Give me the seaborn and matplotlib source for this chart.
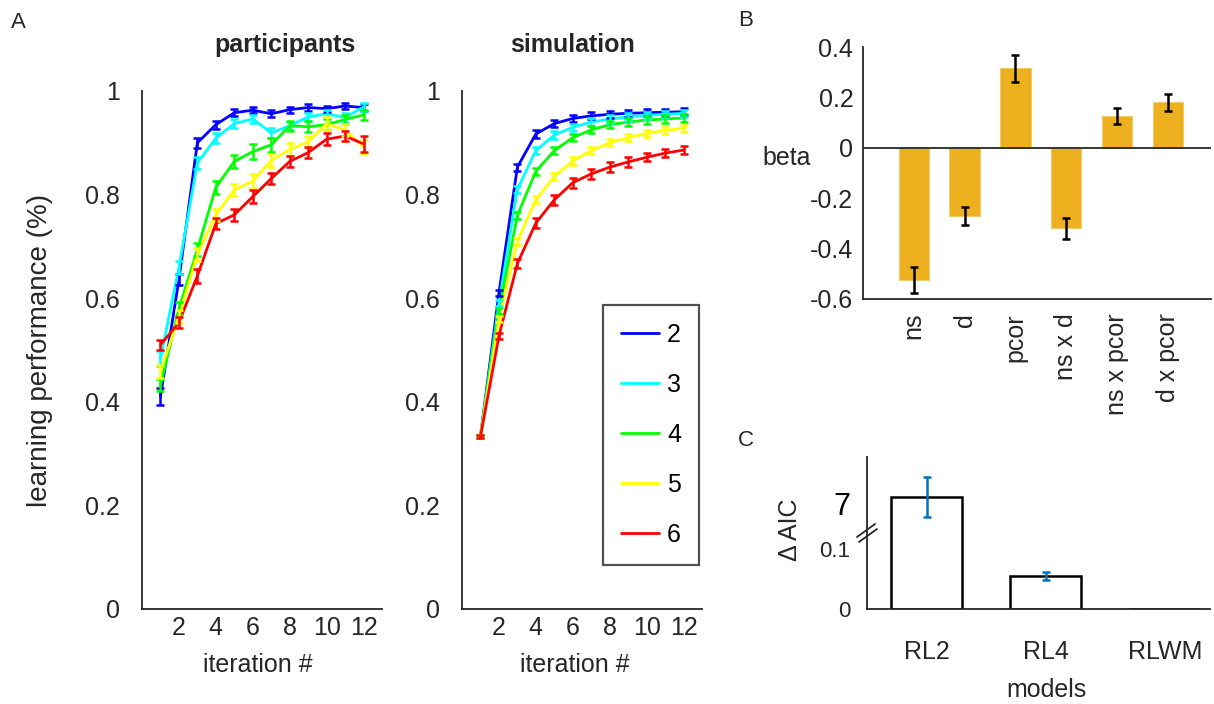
import numpy as np
import pandas as pd
import seaborn as sns
import matplotlib.pyplot as plt
from matplotlib.lines import Line2D

# ---- data ----
iterations = list(range(1, 13))
set_sizes = ['2', '3', '4', '5', '6']
line_colors = ['#0000ff', '#00ffff', '#00ff00', '#ffff00', '#ff0000']

# participants, learning performance per iteration
part_2 = [0.41, 0.636, 0.900, 0.935, 0.958, 0.963, 0.956, 0.964, 0.968, 0.966, 0.971, 0.968]
part_3 = [0.484, 0.659, 0.861, 0.909, 0.937, 0.946, 0.919, 0.933, 0.950, 0.956, 0.949, 0.969]
part_4 = [0.432, 0.580, 0.694, 0.814, 0.864, 0.883, 0.896, 0.933, 0.931, 0.935, 0.945, 0.954]
part_5 = [0.458, 0.565, 0.684, 0.761, 0.809, 0.826, 0.866, 0.887, 0.902, 0.937, 0.925, 0.892]
part_6 = [0.510, 0.553, 0.643, 0.744, 0.761, 0.796, 0.831, 0.864, 0.881, 0.907, 0.913, 0.898]
part_err_2 = [0.016, 0.010, 0.010, 0.008, 0.007, 0.006, 0.007, 0.006, 0.007, 0.006, 0.006, 0.006]
part_err_3 = [0.014, 0.012, 0.011, 0.009, 0.008, 0.008, 0.009, 0.008, 0.008, 0.008, 0.008, 0.008]
part_err_4 = [0.012, 0.012, 0.012, 0.012, 0.012, 0.014, 0.014, 0.010, 0.011, 0.010, 0.009, 0.010]
part_err_5 = [0.013, 0.012, 0.012, 0.012, 0.012, 0.013, 0.012, 0.012, 0.011, 0.012, 0.012, 0.014]
part_err_6 = [0.010, 0.010, 0.013, 0.011, 0.012, 0.013, 0.010, 0.011, 0.010, 0.011, 0.010, 0.015]

# simulation
sim_2 = [0.333, 0.610, 0.853, 0.917, 0.937, 0.947, 0.952, 0.955, 0.957, 0.958, 0.959, 0.960]
sim_3 = [0.333, 0.590, 0.810, 0.885, 0.915, 0.930, 0.940, 0.946, 0.950, 0.953, 0.955, 0.957]
sim_4 = [0.333, 0.575, 0.760, 0.845, 0.885, 0.910, 0.925, 0.935, 0.940, 0.944, 0.946, 0.948]
sim_5 = [0.333, 0.560, 0.710, 0.790, 0.835, 0.865, 0.885, 0.900, 0.910, 0.918, 0.924, 0.928]
sim_6 = [0.333, 0.527, 0.667, 0.745, 0.790, 0.823, 0.840, 0.853, 0.863, 0.872, 0.880, 0.886]
sim_err = [0.002, 0.006, 0.007, 0.007, 0.007, 0.007, 0.007, 0.007, 0.007, 0.007, 0.007, 0.007]
sim_err_6 = [0.002, 0.006, 0.009, 0.010, 0.010, 0.010, 0.009, 0.009, 0.009, 0.008, 0.008, 0.008]

# regression betas
beta_names = ['ns', 'd', 'pcor', 'ns x d', 'ns x pcor', 'd x pcor']
beta_vals = [-0.525, -0.270, 0.315, -0.320, 0.125, 0.180]
beta_err = [0.052, 0.035, 0.053, 0.043, 0.031, 0.035]

# model comparison
models = ['RL2', 'RL4', 'RLWM']
aic_vals = [7.48, 0.055, 0.0]
aic_err = [1.35, 0.006, 0.0]

part = [part_2, part_3, part_4, part_5, part_6]
part_err = [part_err_2, part_err_3, part_err_4, part_err_5, part_err_6]
sim = [sim_2, sim_3, sim_4, sim_5, sim_6]
sim_errs = [sim_err, sim_err, sim_err, sim_err, sim_err_6]

def long_df(series):
    rows = []
    for s, vals in zip(set_sizes, series):
        for it, v in zip(iterations, vals):
            rows.append({'iteration': it, 'perf': v, 'set size': s})
    return pd.DataFrame(rows)

sns.set_theme(style='white')
plt.rcParams['font.family'] = ['Liberation Sans', 'DejaVu Sans']
grey = '#262626'
W, H = 1214, 704
FS = 18

def px(x0, y0, w, h):
    return [x0 / W, 1 - (y0 + h) / H, w / W, h / H]

fig = plt.figure(figsize=(12.14, 7.04), dpi=100)

def style_ax(ax):
    for s in ['top', 'right']:
        ax.spines[s].set_visible(False)
    for s in ['left', 'bottom']:
        ax.spines[s].set_color(grey)
        ax.spines[s].set_linewidth(1.3)
    ax.tick_params(colors=grey, labelsize=FS, direction='in', length=5, width=1.2)

# ---- panel A ----
axP = fig.add_axes(px(142, 91, 240, 518))
axS = fig.add_axes(px(462, 91, 240, 518))
for ax, series, errs, leg in [(axP, part, part_err, False), (axS, sim, sim_errs, True)]:
    sns.lineplot(data=long_df(series), x='iteration', y='perf', hue='set size',
                 palette=line_colors, linewidth=2, ax=ax, legend=leg)
    for vals, e, c in zip(series, errs, line_colors):
        ax.errorbar(iterations, vals, yerr=e, fmt='none', ecolor=c,
                    elinewidth=1.8, capsize=3, capthick=1.8)
    ax.set_xlim(0, 13)
    ax.set_ylim(0, 1)
    ax.set_xticks([2, 4, 6, 8, 10, 12])
    ax.set_yticks([0, 0.2, 0.4, 0.6, 0.8, 1])
    ax.set_yticklabels(['0', '0.2', '0.4', '0.6', '0.8', '1'])
    ax.set_xlabel('')
    ax.set_ylabel('')
    style_ax(ax)
    ax.tick_params(axis='x', pad=5)
    ax.tick_params(axis='y', pad=16)

leg = axS.legend(loc='upper left', bbox_to_anchor=(603 / W, 1 - 305 / H),
                 bbox_transform=fig.transFigure, borderaxespad=0, fontsize=18,
                 frameon=True, fancybox=False, handlelength=1.5, handletextpad=0.35,
                 labelspacing=1.04, borderpad=0.72)
leg.get_frame().set_edgecolor(grey)
leg.get_frame().set_linewidth(1.6)
for t in leg.get_texts():
    t.set_color('black')

fig.text(285 / W, 1 - 45 / H, 'participants', fontsize=18, fontweight='bold', ha='center', va='center')
fig.text(573 / W, 1 - 45 / H, 'simulation', fontsize=18, fontweight='bold', ha='center', va='center')
fig.text(40 / W, 1 - 350 / H, 'learning performance (%)', fontsize=20, rotation=90,
         ha='center', va='center', color=grey)
fig.text(258 / W, 1 - 665 / H, 'iteration #', fontsize=FS, ha='center', va='center', color=grey)
fig.text(575 / W, 1 - 665 / H, 'iteration #', fontsize=FS, ha='center', va='center', color=grey)
fig.text(18 / W, 1 - 22 / H, 'A', fontsize=16, ha='center', va='center')

# ---- panel B ----
axB = fig.add_axes(px(863, 47, 348, 252))
sns.barplot(x=beta_names, y=beta_vals, color='#EDB120', saturation=1, width=0.6,
            edgecolor='#f3cb6a', linewidth=0.8, ax=axB)
axB.errorbar(np.arange(len(beta_names)), beta_vals, yerr=beta_err, fmt='none',
             ecolor='black', elinewidth=1.8, capsize=3, capthick=1.8)
axB.axhline(0, color=grey, linewidth=1.3)
axB.set_xlim(-1, 5.85)
axB.set_ylim(-0.6, 0.4)
axB.set_yticks([-0.6, -0.4, -0.2, 0, 0.2, 0.4])
axB.set_yticklabels(['-0.6', '-0.4', '-0.2', '0', '0.2', '0.4'])
style_ax(axB)
axB.tick_params(axis='x', direction='out', length=6, pad=4, rotation=90)
axB.tick_params(axis='y', pad=7)
fig.text(787 / W, 1 - 158 / H, 'beta', fontsize=FS, ha='center', va='center', color=grey)
fig.text(746 / W, 1 - 20 / H, 'B', fontsize=16, ha='center', va='center')

# ---- panel C (broken y axis) ----
axC = fig.add_axes(px(867, 457, 343, 152))
sns.barplot(x=models, y=aic_vals, color='white', saturation=1, width=0.6,
            edgecolor='black', linewidth=1.8, ax=axC)
ok = np.array(aic_err) > 0
axC.errorbar(np.arange(len(models))[ok], np.array(aic_vals)[ok], yerr=np.array(aic_err)[ok],
             fmt='none', ecolor='#0072BD', elinewidth=1.8, capsize=3, capthick=1.8)
xs_in = [-1, 0, 0.12, 6, 100]
ys_out = [-1, 0, 0.12, 0.15, 0.15 + 94 * 0.025]
fwd = lambda v: np.interp(v, xs_in, ys_out)
inv = lambda v: np.interp(v, ys_out, xs_in)
axC.set_yscale('function', functions=(fwd, inv))
axC.set_ylim(0, inv(0.2533))
axC.set_xlim(-0.5, 2.38)
axC.set_yticks([0, 0.1, 7])
axC.set_yticklabels(['0', '0.1', '7'])
style_ax(axC)
axC.tick_params(axis='y', pad=12, labelsize=16)
axC.tick_params(axis='x', pad=22)
lab7 = axC.get_yticklabels()[2]
lab7.set_fontsize(22)
lab7.set_color('black')
for (x0, y0, x1, y1) in [(857, 537, 875, 524), (859, 542, 877, 529)]:
    fig.add_artist(Line2D([x0 / W, x1 / W], [1 - y0 / H, 1 - y1 / H], color=grey, lw=1.3))
fig.text(790 / W, 1 - 530 / H, 'Δ AIC', fontsize=FS, rotation=90, ha='center', va='center', color=grey)
fig.text(1046 / W, 1 - 690 / H, 'models', fontsize=FS, ha='center', va='center', color=grey)
fig.text(746 / W, 1 - 440 / H, 'C', fontsize=16, ha='center', va='center')

fig.savefig('out.png', dpi=100)
